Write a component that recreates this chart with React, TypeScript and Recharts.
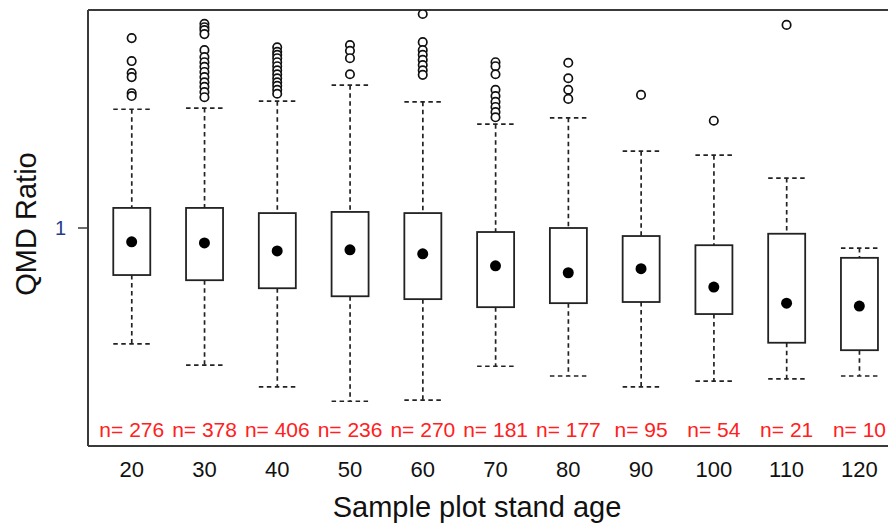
import { ComposedChart, Bar, Scatter, XAxis, YAxis, ReferenceLine } from 'recharts';

// stand age classes and sample sizes
const ages = [20, 30, 40, 50, 60, 70, 80, 90, 100, 110, 120];
const counts = [276, 378, 406, 236, 270, 181, 177, 95, 54, 21, 10];

// box plot statistics of the QMD ratio
const lowerWhisker = [0.798, 0.761, 0.723, 0.698, 0.7, 0.759, 0.742, 0.723, 0.733, 0.737, 0.742];
const q1 = [0.918, 0.909, 0.895, 0.881, 0.876, 0.862, 0.869, 0.871, 0.85, 0.8, 0.787];
const means = [0.976, 0.974, 0.96, 0.962, 0.955, 0.934, 0.922, 0.929, 0.897, 0.869, 0.864];
const q3 = [1.035, 1.035, 1.026, 1.028, 1.026, 0.993, 1.0, 0.986, 0.97, 0.99, 0.948];
const upperWhisker = [1.207, 1.209, 1.221, 1.249, 1.22, 1.181, 1.192, 1.134, 1.127, 1.087, 0.965];
const outliers: number[][] = [
    [1.331, 1.291, 1.27, 1.263, 1.235, 1.23],
    [1.356, 1.35, 1.345, 1.338, 1.31, 1.298, 1.289, 1.281, 1.272, 1.263, 1.254, 1.246, 1.237, 1.228],
    [1.315, 1.307, 1.302, 1.296, 1.289, 1.282, 1.275, 1.268, 1.261, 1.254, 1.248, 1.241, 1.234],
    [1.319, 1.309, 1.296, 1.268],
    [1.373, 1.324, 1.31, 1.302, 1.293, 1.284, 1.275, 1.267],
    [1.289, 1.282, 1.268, 1.241, 1.23, 1.22, 1.211, 1.202, 1.193],
    [1.288, 1.261, 1.241, 1.225],
    [1.232],
    [1.187],
    [1.354],
    [],
];
const yTicks = [1];

const Y_DOMAIN: [number, number] = [0.62, 1.38];
const FONT = '"Liberation Sans", Arial, sans-serif';
const FRAME = '#3a3a3a';

const rows = ages.map((age, i) => ({
    pos: i + 1,
    age,
    n: counts[i],
    lo: lowerWhisker[i],
    q1: q1[i],
    mean: means[i],
    q3: q3[i],
    hi: upperWhisker[i],
}));

const outlierPoints = outliers.flatMap((vals, i) => vals.map((v) => ({ pos: i + 1, v })));

const BoxShape = (props: any) => {
    const { x, y, width, height, payload } = props;
    const top = Math.min(y, y + height);
    const h = Math.abs(height);
    const pxPerUnit = h / (payload.q3 - payload.q1);
    const yOf = (v: number) => top + (payload.q3 - v) * pxPerUnit;
    const cx = x + width / 2;
    const bottom = yOf(Y_DOMAIN[0]);
    const dash = '4.5 3.5';
    return (
        <g>
            <line x1={cx} x2={cx} y1={yOf(payload.hi)} y2={top} stroke="#222" strokeWidth={1.7} strokeDasharray={dash} />
            <line x1={cx} x2={cx} y1={top + h} y2={yOf(payload.lo)} stroke="#222" strokeWidth={1.7} strokeDasharray={dash} />
            <line x1={x} x2={x + width} y1={yOf(payload.hi)} y2={yOf(payload.hi)} stroke="#222" strokeWidth={1.7} strokeDasharray={dash} />
            <line x1={x} x2={x + width} y1={yOf(payload.lo)} y2={yOf(payload.lo)} stroke="#222" strokeWidth={1.7} strokeDasharray={dash} />
            <rect x={x} y={top} width={width} height={h} fill="#fff" stroke="#222" strokeWidth={1.8} />
            <text x={cx} y={bottom - 9} textAnchor="middle" fill="#ff2020" fontSize={21} fontFamily={FONT}>
                {`n= ${payload.n}`}
            </text>
        </g>
    );
};

const OutlierDot = (props: any) => (
    <circle cx={props.cx} cy={props.cy} r={4.2} fill="#fff" stroke="#111" strokeWidth={1.7} />
);

const MeanDot = (props: any) => <circle cx={props.cx} cy={props.cy} r={5.5} fill="#000" />;

export default function App() {
    return (
        <div style={{ position: 'absolute', left: 0, top: 0, width: 888, height: 527, overflow: 'hidden', background: '#fff' }}>
            <ComposedChart
                width={910}
                height={527}
                data={rows}
                margin={{ top: 10, right: 7, left: 0, bottom: 0 }}
            >
                <XAxis
                    dataKey="pos"
                    type="number"
                    domain={[0.4, 11.6]}
                    ticks={rows.map((r) => r.pos)}
                    tickFormatter={(v: number) => String(ages[v - 1])}
                    tickLine={false}
                    tickSize={0}
                    tickMargin={15}
                    height={81}
                    axisLine={{ stroke: FRAME, strokeWidth: 2 }}
                    tick={{ fill: '#111', fontSize: 22, fontFamily: FONT }}
                    label={{
                        content: () => (
                            <text x={477} y={517} textAnchor="middle" fill="#111" fontSize={29} fontFamily={FONT}>
                                Sample plot stand age
                            </text>
                        ),
                    }}
                />
                <YAxis
                    type="number"
                    domain={Y_DOMAIN}
                    ticks={yTicks}
                    width={88}
                    tickSize={10}
                    tickMargin={12}
                    allowDataOverflow
                    tickLine={{ stroke: FRAME, strokeWidth: 1.5 }}
                    axisLine={{ stroke: FRAME, strokeWidth: 2 }}
                    tick={{ fill: '#243c8c', fontSize: 20, fontFamily: FONT }}
                    label={{
                        content: () => (
                            <text
                                x={36}
                                y={224}
                                transform="rotate(-90 36 224)"
                                textAnchor="middle"
                                fill="#111"
                                fontSize={29}
                                fontFamily={FONT}
                            >
                                QMD Ratio
                            </text>
                        ),
                    }}
                />
                <ReferenceLine y={Y_DOMAIN[1]} stroke={FRAME} strokeWidth={2} />
                <Bar dataKey={(d: any) => [d.q1, d.q3]} barSize={37} shape={BoxShape} isAnimationActive={false} />
                <Scatter data={outlierPoints} dataKey="v" shape={OutlierDot} isAnimationActive={false} />
                <Scatter dataKey="mean" shape={MeanDot} isAnimationActive={false} />
            </ComposedChart>
        </div>
    );
}
